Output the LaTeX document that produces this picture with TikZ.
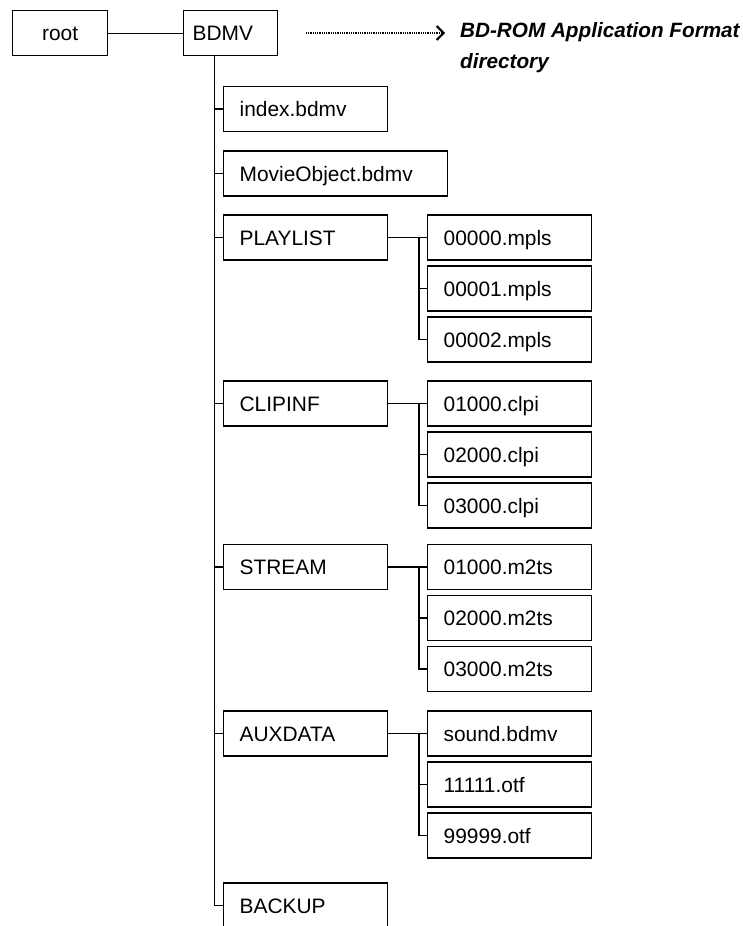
\documentclass[tikz,border=0pt]{standalone}
\usepackage{fontspec}
\setmainfont{Liberation Sans}
\usetikzlibrary{arrows.meta,positioning}
\begin{document}
\begin{tikzpicture}[x=1pt, y=-1pt,
    every node/.style={font=\fontsize{20.9}{25}\selectfont},
    box/.style={draw, line width=1.3pt, minimum height=45pt, inner xsep=16pt,
                anchor=west, align=left, text width=132pt,
                text height=15pt, text depth=0pt},
    link/.style={line width=1.3pt}]
    \useasboundingbox (0,0) rectangle (742,926);

    % root and BDMV
    \node[box, anchor=north west, text width=63pt, align=center] (root) at (12,10) {root};
    \node[box, anchor=north west, inner xsep=9pt, text width=76pt] (bdmv) at (183,10) {BDMV};
    \draw[link] (root) -- (bdmv);

    % note
    \coordinate (dotA) at (306,33);
    \coordinate (dotB) at (445,33);
    \draw[line width=1.6pt, dash pattern=on 1pt off 0.8pt,
          -{Straight Barb[length=7pt, width=14pt, line width=2pt]}] (dotA) -- (dotB);
    \node[anchor=west, align=left, inner sep=0pt,
          font=\fontsize{20.7}{31}\selectfont\bfseries\itshape] (note) at (460,48)
          {BD-ROM Application Format\\directory};

    % directories under BDMV
    \coordinate (trunk) at ([xshift=-16pt]bdmv.south);
    \node[box] (index) at (223,109) {index.bdmv};
    \node[box, text width=192pt] (movie) at (223,173.5) {MovieObject.bdmv};
    \node[box] (playlist) at (223,237.5) {PLAYLIST};
    \node[box] (clipinf) at (223,403.5) {CLIPINF};
    \node[box] (stream) at (223,567) {STREAM};
    \node[box] (auxdata) at (223,733.5) {AUXDATA};
    \node[box] (backup) at (223,905.5) {BACKUP};
    \draw[link] (trunk) |- (backup.west);
    \foreach \d in {index,movie,playlist,clipinf,stream,auxdata}
        \draw[link] (\d.west) -- (\d.west -| trunk);

    % files
    \foreach \d/\a/\b/\c in {playlist/00000.mpls/00001.mpls/00002.mpls,
                             clipinf/01000.clpi/02000.clpi/03000.clpi,
                             stream/01000.m2ts/02000.m2ts/03000.m2ts,
                             auxdata/sound.bdmv/11111.otf/99999.otf} {
        \node[box, right=38.7pt of \d] (\d-0) {\a};
        \node[box, below=4.7pt of \d-0] (\d-1) {\b};
        \node[box, below=4.7pt of \d-1] (\d-2) {\c};
        \draw[link] (\d) -- (\d-0);
        \draw[link] (\d-0.west) -- ++(-8,0) |- (\d-2.west);
        \draw[link] (\d-1.west) -- ++(-8,0);
    }
\end{tikzpicture}
\end{document}
